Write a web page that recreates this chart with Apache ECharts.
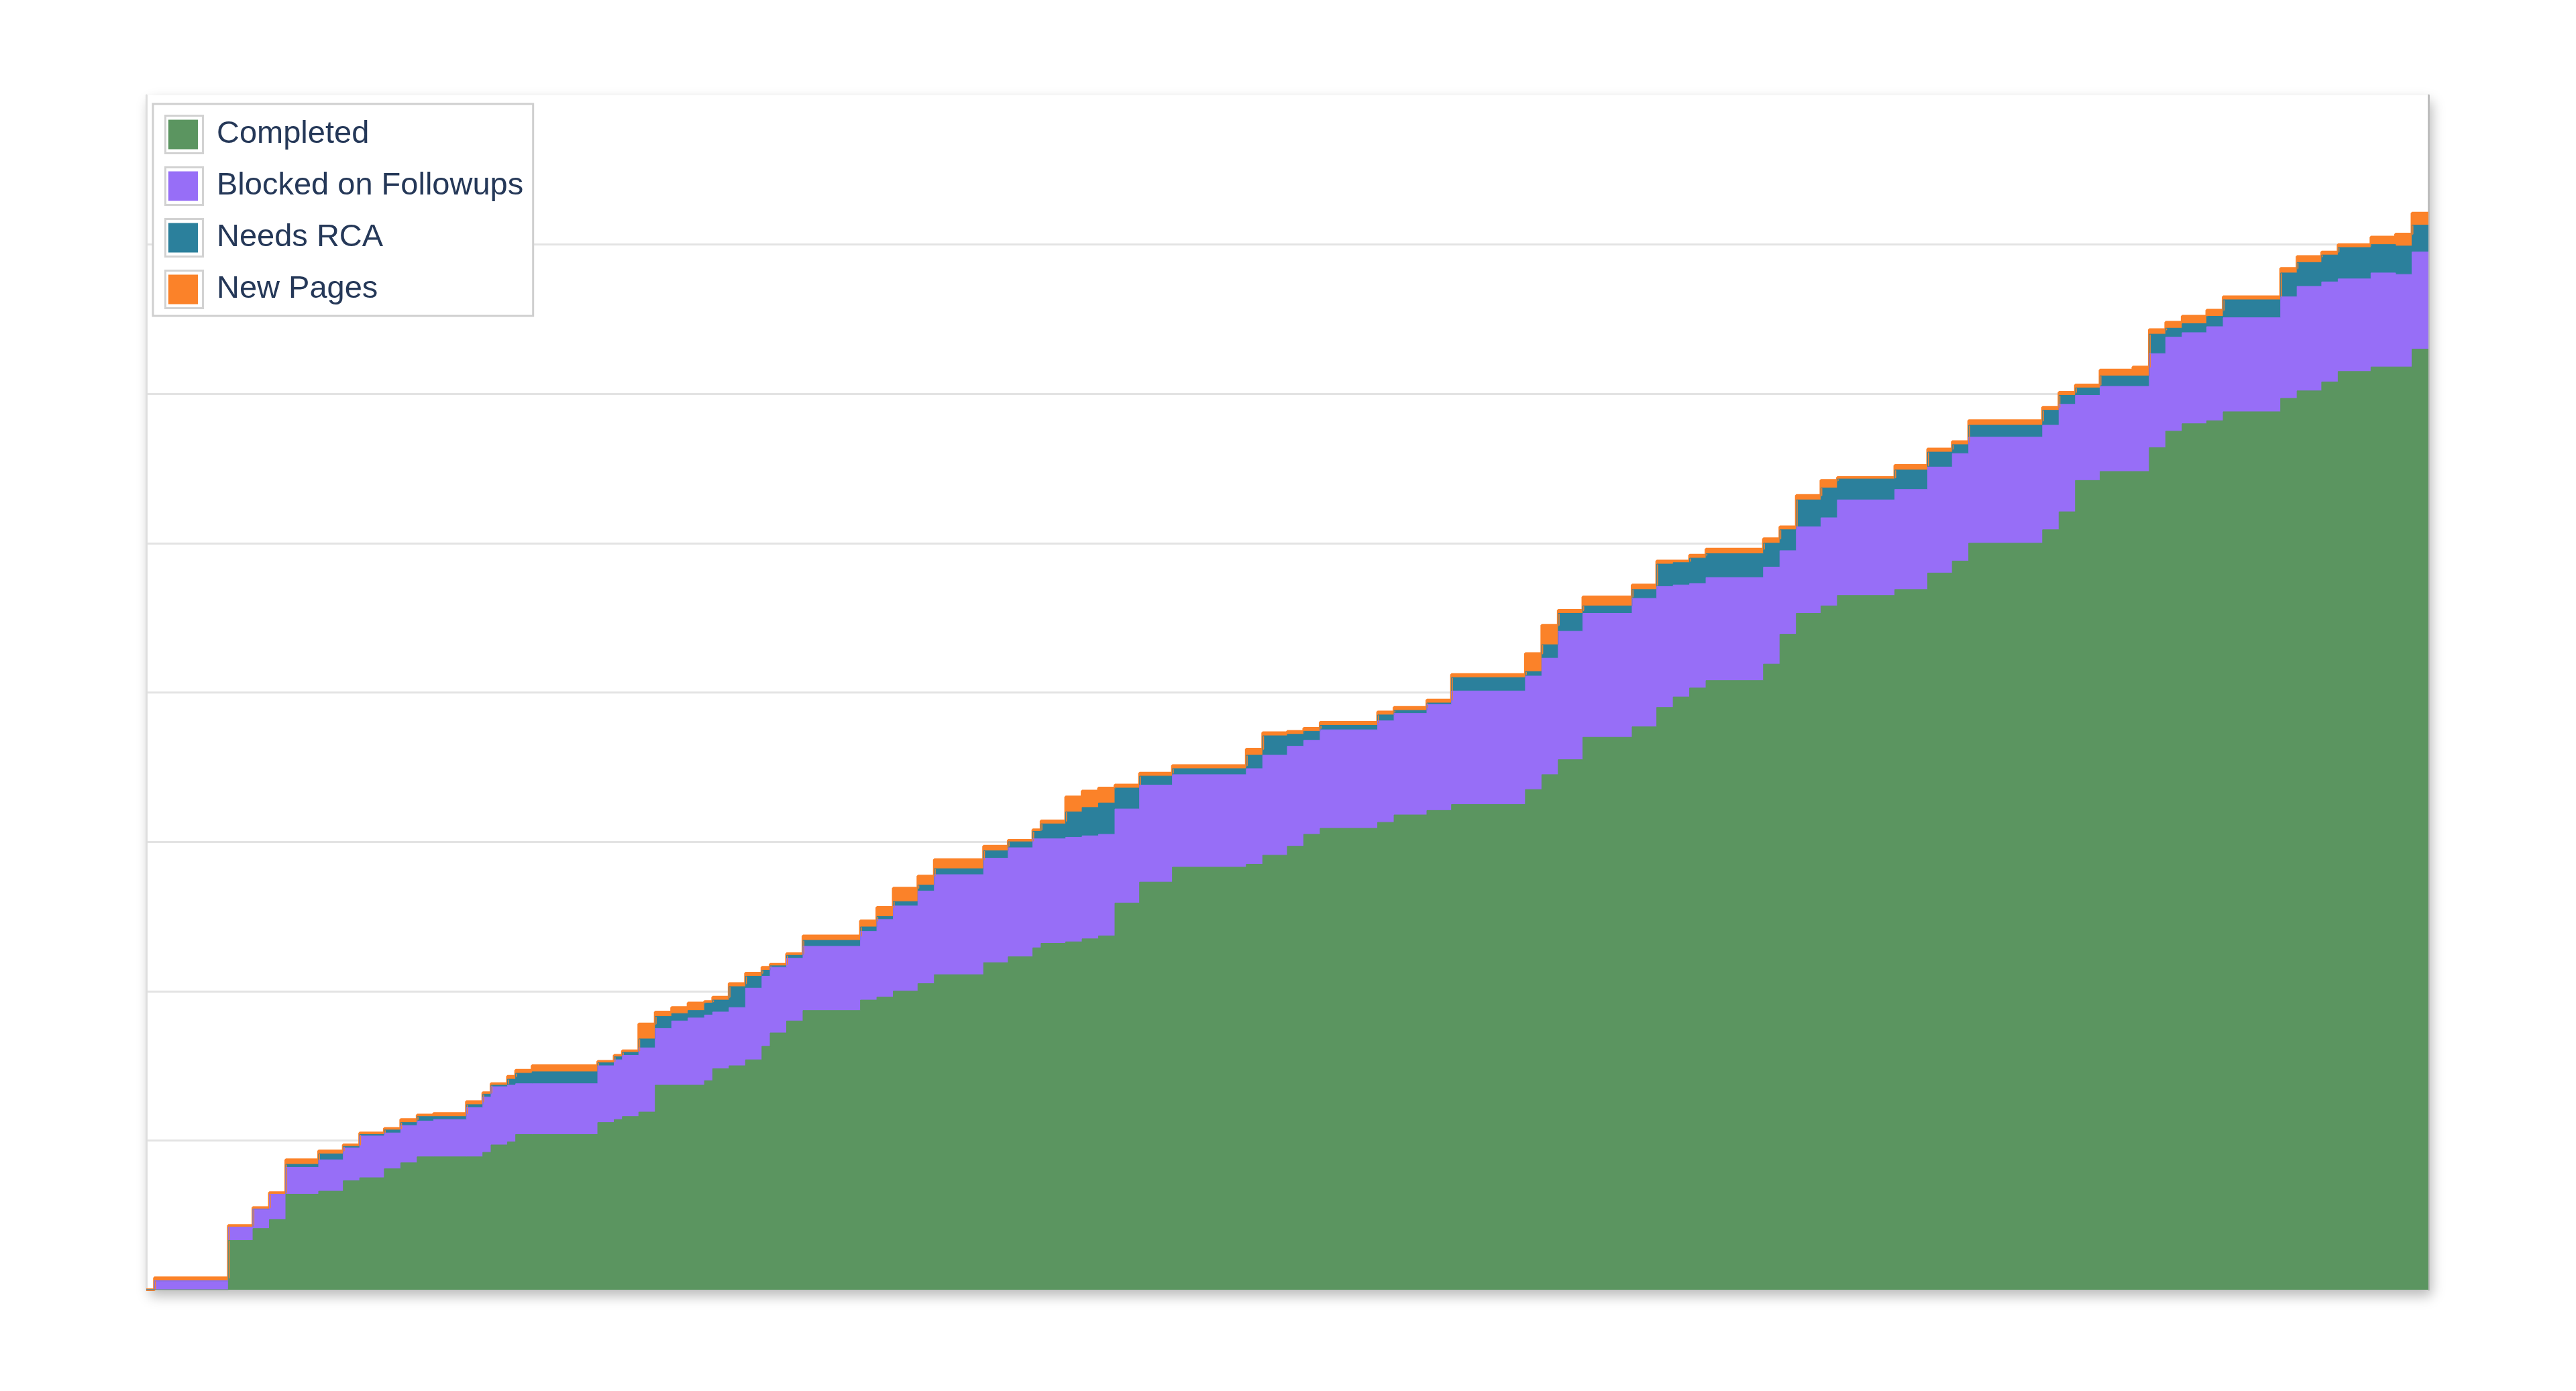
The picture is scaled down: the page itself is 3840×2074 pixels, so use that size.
<!DOCTYPE html>
<html>
<head>
<meta charset="utf-8">
<title>Pages</title>
<script src="https://cdn.jsdelivr.net/npm/echarts@6/dist/echarts.min.js"></script>
<style>
  html, body { margin: 0; padding: 0; background: #fff; }
  #chart { width: 3840px; height: 2074px; }
</style>
</head>
<body>
<div id="chart"></div>
<script>
// day on which each step starts (step chart, value holds until next day)
var days = [0, 1, 10, 13, 15, 17, 21, 24, 26, 29,
  31, 33, 35, 39, 41, 42, 44, 45, 47, 55,
  57, 58, 60, 62, 64, 66, 68, 69, 71, 73,
  75, 76, 78, 80, 87, 89, 91, 94, 96, 102,
  105, 108, 109, 112, 114, 116, 118, 121, 125, 134,
  136, 139, 141, 143, 150, 152, 156, 159, 168, 170,
  172, 175, 181, 184, 186, 188, 190, 197, 199, 201,
  204, 206, 213, 217, 220, 222, 231, 233, 235, 238,
  242, 244, 246, 248, 251, 253, 260, 262, 265, 267,
  271, 274, 276, 278];

var completed = [0, 0, 33, 41, 47, 64, 66, 73, 75, 81,
  85, 89, 89, 89, 92, 97, 99, 104, 104, 112,
  114, 116, 119, 137, 137, 137, 140, 148, 150, 154,
  163, 172, 180, 187, 194, 196, 200, 205, 211, 219,
  223, 229, 232, 233, 235, 237, 259, 273, 283, 285,
  291, 297, 305, 309, 313, 318, 321, 325, 335, 345,
  355, 370, 377, 390, 397, 403, 408, 419, 439, 453,
  458, 465, 469, 480, 488, 500, 509, 521, 542, 548,
  548, 564, 575, 580, 582, 588, 597, 602, 608, 615,
  618, 618, 630, 630];

var blocked = [0, 6, 9, 13, 17, 18, 21, 22, 28, 24,
  25, 24, 25, 33, 37, 39, 38, 34, 34, 38,
  40, 41, 43, 38, 43, 45, 44, 38, 39, 48,
  47, 44, 42, 43, 46, 52, 57, 62, 67, 70,
  73, 73, 70, 70, 69, 68, 63, 65, 62, 64,
  67, 67, 63, 66, 68, 68, 71, 76, 76, 78,
  86, 83, 86, 81, 75, 70, 69, 65, 56, 58,
  59, 64, 67, 71, 72, 71, 70, 72, 57, 57,
  57, 63, 63, 61, 63, 63, 68, 70, 67, 62,
  63, 62, 65, 65];

var needsRca = [0, 0, 0, 0, 0, 2, 4, 1, 1, 2,
  2, 3, 2, 2, 2, 1, 4, 7, 8, 2,
  2, 2, 6, 8, 5, 5, 8, 8, 14, 8,
  4, 1, 2, 4, 3, 2, 3, 4, 4, 5,
  4, 5, 10, 17, 19, 21, 14, 6, 4, 9,
  13, 8, 6, 3, 4, 2, 1, 9, 3, 9,
  12, 5, 6, 15, 15, 17, 16, 16, 14, 18,
  20, 14, 13, 10, 6, 8, 10, 6, 5, 7,
  7, 13, 6, 6, 7, 12, 16, 16, 18, 21,
  19, 19, 18, 18];

var newPages = [0, 2, 1, 1, 1, 3, 2, 1, 1, 1,
  2, 1, 2, 2, 1, 1, 2, 2, 4, 1,
  1, 1, 10, 3, 4, 5, 1, 2, 2, 2,
  2, 1, 1, 3, 4, 6, 9, 6, 6, 3,
  1, 1, 2, 10, 11, 10, 2, 2, 2, 4,
  2, 2, 2, 2, 2, 2, 2, 2, 12, 13,
  2, 6, 3, 2, 1, 2, 3, 3, 2, 3,
  5, 1, 3, 2, 2, 3, 2, 2, 2, 4,
  6, 3, 4, 5, 4, 2, 3, 4, 2, 2,
  5, 8, 8, 8];

var names = ['Completed', 'Blocked on Followups', 'Needs RCA', 'New Pages'];
var colors = ['#5b9560', '#976ef7', '#2b809c', '#fb8229'];
var values = [completed, blocked, needsRca, newPages];

// running totals: each layer sits on the ones below it
var tops = [];
for(var k=0; k<4; k++){
  tops[k] = [];
  for(var i=0; i<days.length; i++){
    tops[k].push([days[i], (k > 0 ? tops[k-1][i][1] : 0) + values[k][i]]);
  }
}

// draw the tallest layer first so the lower ones paint over it
var series = [];
for(var k=3; k>=0; k--){
  series.push({
    name: names[k],
    type: 'line',
    step: 'end',
    symbol: 'none',
    color: colors[k],
    lineStyle: { width: k == 3 ? 4 : 1, color: colors[k] },
    areaStyle: { color: colors[k], opacity: 1 },
    data: tops[k]
  });
}

var font = '"Helvetica Neue", Helvetica, "Liberation Sans", Arial, sans-serif';

var chart = echarts.init(document.getElementById('chart'));
chart.setOption({
  animation: false,
  backgroundColor: '#fff',
  grid: {
    left: 218,
    right: 220,
    top: 142,
    bottom: 151,
    show: true,
    backgroundColor: '#fff',
    borderWidth: 0,
    shadowColor: 'rgba(0,0,0,0.28)',
    shadowBlur: 18,
    shadowOffsetX: 5,
    shadowOffsetY: 9
  },
  legend: [{
    // frame + swatch borders
    data: names,
    orient: 'vertical',
    left: 228,
    top: 155,
    padding: [16, 30, 10, 17],
    itemGap: 18,
    itemWidth: 56,
    itemHeight: 56,
    icon: 'rect',
    selectedMode: false,
    borderColor: '#cfcfcf',
    borderWidth: 3,
    backgroundColor: '#fff',
    itemStyle: { color: '#fff', borderColor: '#d2d2d2', borderWidth: 3 },
    textStyle: { fontFamily: font, fontSize: 47, lineHeight: 50, color: 'rgba(0,0,0,0)' }
  }, {
    // coloured swatches and labels
    data: names,
    orient: 'vertical',
    left: 251,
    top: 177,
    padding: 0,
    itemGap: 30,
    itemWidth: 44,
    itemHeight: 44,
    icon: 'rect',
    selectedMode: false,
    itemStyle: { borderWidth: 0 },
    textStyle: { fontFamily: font, fontSize: 47, lineHeight: 44, color: '#253858', padding: [0, 0, 0, 23] }
  }],
  xAxis: {
    type: 'value',
    min: 0,
    max: 278,
    axisLine: { show: false },
    axisTick: { show: false },
    axisLabel: { show: false },
    splitLine: { show: false }
  },
  yAxis: [{
    type: 'value',
    min: 0,
    max: 800,
    interval: 100,
    axisLine: { show: true, lineStyle: { color: '#dedede', width: 3 } },
    axisTick: { show: false },
    axisLabel: { show: false },
    splitLine: { show: true, showMinLine: false, showMaxLine: false, lineStyle: { color: '#e3e3e3', width: 3 } }
  }, {
    type: 'value',
    position: 'right',
    min: 0,
    max: 800,
    interval: 100,
    axisLine: { show: true, lineStyle: { color: '#bdbdbd', width: 3 } },
    axisTick: { show: false },
    axisLabel: { show: false },
    splitLine: { show: false }
  }],
  series: series
});
</script>
</body>
</html>
